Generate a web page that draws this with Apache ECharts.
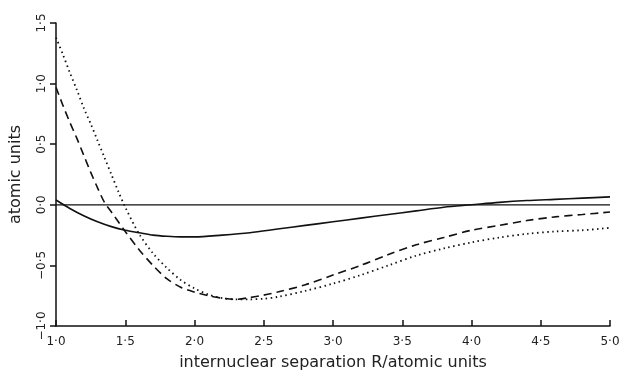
<!DOCTYPE html>
<html>
	<head>
		<meta charset="UTF-8">
		<title></title>
		<script src="https://cdn.jsdelivr.net/npm/echarts@6/dist/echarts.min.js"></script>
		<style>
			html, body { margin: 0; padding: 0; background: #fff; }
			#main { width: 627px; height: 376px; }
		</style>
	</head>
	<body>
		<div id="main"></div>
		<script>
			// separation R
			var rSolid = [1.0, 1.1, 1.2, 1.3, 1.4, 1.5, 1.6, 1.7, 1.8, 1.9, 2.0, 2.2, 2.4, 2.6, 2.8, 3.0, 3.2, 3.4, 3.6, 3.8, 4.0, 4.2, 4.4, 4.6, 4.8, 5.0];
			var ySolid = [0.04, -0.03, -0.09, -0.14, -0.18, -0.21, -0.23, -0.25, -0.26, -0.265, -0.265, -0.25, -0.23, -0.20, -0.17, -0.14, -0.11, -0.08, -0.05, -0.02, 0.0, 0.02, 0.035, 0.045, 0.055, 0.065];

			var rCurve = [1.0, 1.05, 1.1, 1.15, 1.2, 1.25, 1.3, 1.35, 1.4, 1.45, 1.5, 1.6, 1.7, 1.8, 1.9, 2.0, 2.1, 2.2, 2.3, 2.4, 2.5, 2.6, 2.8, 3.0, 3.2, 3.4, 3.6, 3.8, 4.0, 4.2, 4.4, 4.6, 4.8, 5.0];
			var yDashed = [0.97, 0.82, 0.68, 0.55, 0.41, 0.27, 0.14, 0.02, -0.06, -0.14, -0.22, -0.37, -0.50, -0.61, -0.68, -0.72, -0.75, -0.77, -0.78, -0.765, -0.745, -0.72, -0.66, -0.58, -0.50, -0.41, -0.33, -0.27, -0.21, -0.17, -0.13, -0.10, -0.08, -0.06];
			var yDotted = [1.38, 1.24, 1.09, 0.95, 0.80, 0.67, 0.53, 0.39, 0.25, 0.11, -0.02, -0.24, -0.40, -0.52, -0.62, -0.69, -0.74, -0.77, -0.78, -0.78, -0.775, -0.76, -0.71, -0.65, -0.58, -0.50, -0.42, -0.36, -0.31, -0.27, -0.24, -0.22, -0.21, -0.19];

			var zeroR = [1.0, 5.0];
			var zeroY = [0, 0];

			function pairs(xs, ys) {
				var out = [];
				for (var i = 0; i < xs.length; i++) {
					out.push([xs[i], ys[i]]);
				}
				return out;
			}

			function tickText(v) {
				return v.toFixed(1).replace('.', '·').replace('-', '−');
			}

			var font = '"DejaVu Sans", sans-serif';

			var myChart = echarts.init(document.getElementById('main'));

			var option = {
				animation: false,
				grid: { left: 52, right: 17, top: 23, bottom: 49 },
				xAxis: {
					type: 'value',
					min: 1,
					max: 5,
					interval: 0.5,
					name: 'internuclear separation R/atomic units',
					nameLocation: 'middle',
					nameGap: 29,
					nameTextStyle: { color: '#222', fontSize: 16, fontFamily: font },
					axisLine: { onZero: false, lineStyle: { color: '#111', width: 1.5 } },
					axisTick: { inside: true, length: 6, lineStyle: { color: '#111', width: 1.5 } },
					axisLabel: { color: '#222', fontSize: 12, fontFamily: font, margin: 10, formatter: tickText },
					splitLine: { show: false }
				},
				yAxis: {
					type: 'value',
					min: -1,
					max: 1.5,
					interval: 0.5,
					name: 'atomic units',
					nameLocation: 'middle',
					nameRotate: 90,
					nameGap: 32,
					nameTextStyle: { color: '#222', fontSize: 16, fontFamily: font },
					axisLine: { show: true, onZero: false, lineStyle: { color: '#111', width: 1.5 } },
					axisTick: { show: true, length: 6, lineStyle: { color: '#111', width: 1.5 } },
					axisLabel: { color: '#222', fontSize: 12, fontFamily: font, rotate: 90, margin: 8, formatter: tickText },
					splitLine: { show: false }
				},
				series: [
					{
						name: 'zero',
						type: 'line',
						data: pairs(zeroR, zeroY),
						symbol: 'none',
						lineStyle: { color: '#111', width: 1.2 }
					},
					{
						name: 'solid',
						type: 'line',
						data: pairs(rSolid, ySolid),
						smooth: 0.3,
						symbol: 'none',
						lineStyle: { color: '#111', width: 1.6 }
					},
					{
						name: 'dashed',
						type: 'line',
						data: pairs(rCurve, yDashed),
						smooth: 0.3,
						symbol: 'none',
						lineStyle: { color: '#111', width: 1.6, type: [8, 5] }
					},
					{
						name: 'dotted',
						type: 'line',
						data: pairs(rCurve, yDotted),
						smooth: 0.3,
						symbol: 'none',
						lineStyle: { color: '#111', width: 1.8, type: [1.5, 3.5] }
					}
				]
			};

			myChart.setOption(option);
		</script>
	</body>
</html>
